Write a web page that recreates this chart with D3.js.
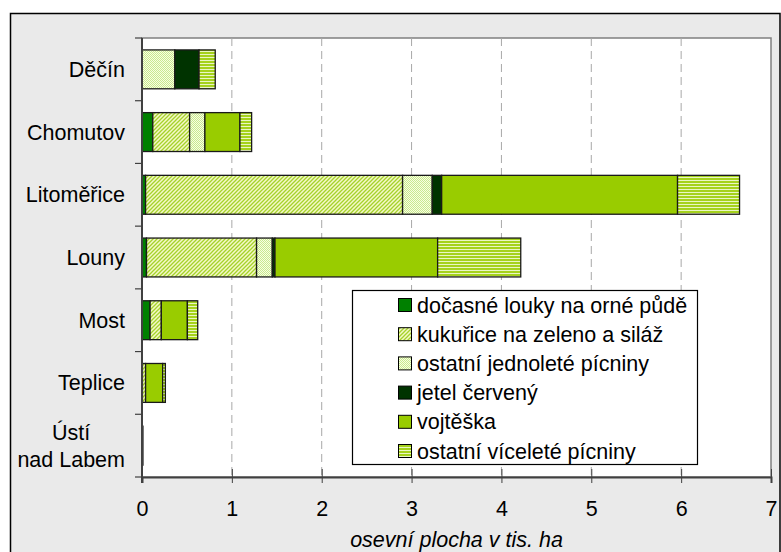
<!DOCTYPE html>
<html>
<head>
<meta charset="utf-8">
<script src="https://cdn.jsdelivr.net/npm/d3@7"></script>
<style>
    body { margin: 0; background: #fff; }
    svg { display: block; font-family: "Liberation Sans", Arial, sans-serif; }
</style>
</head>
<body>
<svg id="chart"></svg>
<script>
const districts = ["Děčín", "Chomutov", "Litoměřice", "Louny", "Most", "Teplice", "Ústí nad Labem"];
const seriesNames = [
    "dočasné louky na orné půdě",
    "kukuřice na zeleno a siláž",
    "ostatní jednoleté pícniny",
    "jetel červený",
    "vojtěška",
    "ostatní víceleté pícniny"
];
// thousands of ha
const docasneLouky = [0, 0.12, 0.04, 0.05, 0.09, 0.005, 0.005];
const kukurice = [0, 0.41, 2.86, 1.225, 0.125, 0.035, 0];
const jednoleteOstatni = [0.365, 0.17, 0.33, 0.175, 0, 0, 0];
const jetel = [0.27, 0, 0.105, 0.03, 0, 0, 0];
const vojteska = [0, 0.39, 2.625, 1.81, 0.29, 0.19, 0.005];
const viceleteOstatni = [0.18, 0.13, 0.69, 0.925, 0.115, 0.03, 0];
const xTicks = [0, 1, 2, 3, 4, 5, 6, 7];

const seriesValues = [docasneLouky, kukurice, jednoleteOstatni, jetel, vojteska, viceleteOstatni];

const width = 781;
const height = 552;
const plot = { left: 142, top: 38, right: 771, bottom: 477 };
const fontSize = 21.5;

const svg = d3.select("#chart")
    .attr("width", width)
    .attr("height", height);

const defs = svg.append("defs");

// diagonal hatch (kukuřice)
const diag = defs.append("pattern")
    .attr("id", "p-diag")
    .attr("patternUnits", "userSpaceOnUse")
    .attr("width", 4)
    .attr("height", 4);
diag.append("rect").attr("width", 4).attr("height", 4).attr("fill", "#f4f9c8");
diag.append("path")
    .attr("d", "M-1,1 l2,-2 M0,4 l4,-4 M3,5 l2,-2")
    .attr("stroke", "#a6d22a")
    .attr("stroke-width", 1.3);

// fine dots (ostatní jednoleté)
const dots = defs.append("pattern")
    .attr("id", "p-dots")
    .attr("patternUnits", "userSpaceOnUse")
    .attr("width", 2)
    .attr("height", 2);
dots.append("rect").attr("width", 2).attr("height", 2).attr("fill", "#f8ffe0");
dots.append("rect").attr("width", 1).attr("height", 1).attr("fill", "#c8e890");
dots.append("rect").attr("x", 1).attr("y", 1).attr("width", 1).attr("height", 1).attr("fill", "#c8e890");

// horizontal stripes (ostatní víceleté)
const stripes = defs.append("pattern")
    .attr("id", "p-stripes")
    .attr("patternUnits", "userSpaceOnUse")
    .attr("width", 4)
    .attr("height", 3);
stripes.append("rect").attr("width", 4).attr("height", 3).attr("fill", "#eaf6c4");
stripes.append("rect").attr("y", 1).attr("width", 4).attr("height", 2).attr("fill", "#a5d21c");

const fills = ["#008000", "url(#p-diag)", "url(#p-dots)", "#003300", "#99cc00", "url(#p-stripes)"];

// outer frame
svg.append("rect")
    .attr("x", 10.5)
    .attr("y", 13.5)
    .attr("width", 769.5)
    .attr("height", 560)
    .attr("fill", "#eaeaea")
    .attr("stroke", "#000")
    .attr("stroke-width", 1.5);

// plot area
svg.append("rect")
    .attr("x", plot.left)
    .attr("y", plot.top)
    .attr("width", plot.right - plot.left)
    .attr("height", plot.bottom - plot.top)
    .attr("fill", "#fff")
    .attr("stroke", "#808080")
    .attr("stroke-width", 1.5);

const x = d3.scaleLinear()
    .domain([0, 7])
    .range([plot.left, plot.right]);

const y = d3.scaleBand()
    .domain(districts)
    .range([plot.top, plot.bottom])
    .paddingInner(0.38)
    .paddingOuter(0.19);

const step = y.step();

// dashed grid
svg.append("g")
    .selectAll("line")
    .data(xTicks.filter(d => d > 0 && d < 7))
    .join("line")
    .attr("x1", d => x(d))
    .attr("x2", d => x(d))
    .attr("y1", plot.top)
    .attr("y2", plot.bottom)
    .attr("stroke", "#a8a8a8")
    .attr("stroke-width", 1)
    .attr("stroke-dasharray", "8,5");

// stacked bars
const rows = districts.map((name, i) => {
    const row = { name };
    seriesNames.forEach((s, j) => { row[s] = seriesValues[j][i]; });
    return row;
});
const stacked = d3.stack().keys(seriesNames)(rows);

svg.append("g")
    .selectAll("g")
    .data(stacked)
    .join("g")
    .attr("fill", (d, i) => fills[i])
    .selectAll("rect")
    .data(d => d.filter(v => v[1] - v[0] > 0))
    .join("rect")
    .attr("x", d => x(d[0]))
    .attr("y", d => y(d.data.name))
    .attr("width", d => x(d[1]) - x(d[0]))
    .attr("height", y.bandwidth())
    .attr("stroke", "#1a1a1a")
    .attr("stroke-width", 1.3);

// axes
const xAxis = svg.append("g")
    .attr("transform", `translate(0,${plot.bottom})`)
    .call(d3.axisBottom(x).tickValues(xTicks).tickSize(6).tickPadding(18).tickFormat(d3.format("d")));
xAxis.select(".domain").attr("stroke", "#404040").attr("stroke-width", 2);
xAxis.selectAll(".tick line").attr("stroke", "#404040").attr("y1", -8).attr("y2", 6);
xAxis.selectAll(".tick text")
    .attr("font-size", fontSize)
    .attr("fill", "#000")
    .attr("font-family", "Liberation Sans, Arial, sans-serif");

const yAxis = svg.append("g")
    .attr("transform", `translate(${plot.left},0)`);
yAxis.append("line")
    .attr("x1", 0).attr("x2", 0)
    .attr("y1", plot.top).attr("y2", plot.bottom + 6)
    .attr("stroke", "#404040")
    .attr("stroke-width", 2);
yAxis.selectAll(".ytick")
    .data(d3.range(districts.length + 1))
    .join("line")
    .attr("class", "ytick")
    .attr("x1", -7).attr("x2", 0)
    .attr("y1", i => plot.top + i * step)
    .attr("y2", i => plot.top + i * step)
    .attr("stroke", "#404040")
    .attr("stroke-width", 1.2);

// category labels (multi-line ones centred on each other)
const labelRight = 125;
districts.forEach(name => {
    const lines = name === "Ústí nad Labem" ? ["Ústí", "nad Labem"] : [name];
    const cy = y(name) + y.bandwidth() / 2;
    const lineH = 27;
    const t = svg.append("text")
        .attr("font-size", fontSize)
        .attr("fill", "#000")
        .attr("text-anchor", "middle");
    lines.forEach((l, k) => {
        t.append("tspan")
            .attr("y", cy + (k - (lines.length - 1) / 2) * lineH)
            .attr("dy", "0.35em")
            .text(l);
    });
    const w = d3.max(t.selectAll("tspan").nodes(), n => n.getComputedTextLength());
    t.selectAll("tspan").attr("x", labelRight - w / 2);
});

// axis title
svg.append("text")
    .attr("x", (plot.left + plot.right) / 2)
    .attr("y", 539)
    .attr("dy", "0.35em")
    .attr("text-anchor", "middle")
    .attr("font-size", fontSize)
    .attr("font-style", "italic")
    .text("osevní plocha v tis. ha");

// legend
const legend = svg.append("g");
legend.append("rect")
    .attr("x", 352.5)
    .attr("y", 290.5)
    .attr("width", 345)
    .attr("height", 174)
    .attr("fill", "#fff")
    .attr("stroke", "#000")
    .attr("stroke-width", 1.2);

seriesNames.forEach((s, i) => {
    const cy = 305 + i * 29.2;
    legend.append("rect")
        .attr("x", 398.5)
        .attr("y", cy - 6.5)
        .attr("width", 13)
        .attr("height", 13)
        .attr("fill", fills[i])
        .attr("stroke", "#000")
        .attr("stroke-width", 1);
    legend.append("text")
        .attr("x", 417)
        .attr("y", cy)
        .attr("dy", "0.35em")
        .attr("font-size", fontSize)
        .text(s);
});
</script>
</body>
</html>
